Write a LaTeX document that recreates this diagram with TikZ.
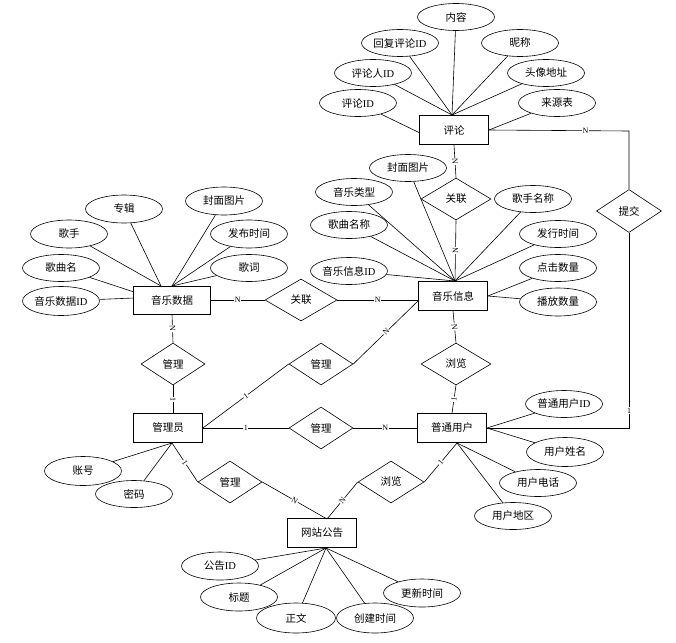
\documentclass[tikz,border=0pt]{standalone}
\usepackage{fontspec}
\setmainfont{Liberation Serif}
\newfontfamily\cjk{Noto Sans CJK SC}
\usetikzlibrary{shapes.geometric,calc}
\newcommand{\lat}[1]{{\rmfamily #1}}
\begin{document}
\begin{tikzpicture}[x=1pt,y=-1pt,
  txt/.style={font=\cjk\fontsize{10.5}{12}\selectfont},
  ent/.style={txt, draw, line width=0.8pt, minimum width=69pt, minimum height=29pt, inner sep=0pt},
  att/.style={txt, ellipse, draw, line width=0.6pt, minimum width=77pt, minimum height=27pt, inner sep=0pt},
  rel/.style={txt, diamond, draw, line width=0.6pt, minimum width=68pt, minimum height=42pt, inner sep=0pt},
  ln/.style={line width=0.6pt},
  cardup/.style={font=\fontsize{8}{8}\selectfont, fill=white, inner sep=0.6pt},
  card/.style={cardup, sloped}]
\useasboundingbox (0,0) rectangle (676,642);

% entities
\node[ent] (c)  at (454,130) {评论};
\node[ent] (mi) at (453,296) {音乐信息};
\node[ent, minimum width=77pt, minimum height=28pt] (md) at (172,300) {音乐数据};
\node[ent] (ad) at (168,428) {管理员};
\node[ent] (us) at (452,428) {普通用户};
\node[ent] (nt) at (322,533) {网站公告};

% relations
\node[rel, minimum width=70pt] (r1) at (456,199) {关联};
\node[rel, minimum width=72pt] (r2) at (301,300) {关联};
\node[rel, minimum width=64pt] (m1) at (173,364) {管理};
\node[rel, minimum width=64pt] (m2) at (321,364) {管理};
\node[rel, minimum width=70pt] (b1) at (456,364) {浏览};
\node[rel, minimum width=64pt] (m3) at (321,428) {管理};
\node[rel, minimum width=64pt] (m4) at (230,482) {管理};
\node[rel, minimum width=66pt] (b2) at (391,482) {浏览};
\node[rel, minimum width=65pt, minimum height=43pt] (tj) at (629,211) {提交};

% attributes of 评论
\node[att] (a1) at (456,17) {内容};
\node[att] (a2) at (400,43) {回复评论\lat{ID}};
\node[att] (a3) at (520,43) {昵称};
\node[att] (a4) at (373,73) {评论人\lat{ID}};
\node[att] (a5) at (546,73) {头像地址};
\node[att] (a6) at (358,103) {评论\lat{ID}};
\node[att] (a7) at (557,103) {来源表};

% attributes of 音乐信息
\node[att] (b1a) at (408,168) {封面图片};
\node[att] (b2a) at (354,192) {音乐类型};
\node[att] (b3a) at (533,199) {歌手名称};
\node[att] (b4a) at (349,225) {歌曲名称};
\node[att] (b5a) at (558,234) {发行时间};
\node[att] (b6a) at (349,271) {音乐信息\lat{ID}};
\node[att] (b7a) at (558,268) {点击数量};
\node[att, minimum height=28pt] (b8a) at (558,302) {播放数量};

% attributes of 音乐数据
\node[att, minimum height=28pt] (d1) at (124,209) {专辑};
\node[att, minimum height=28pt] (d2) at (224,201) {封面图片};
\node[att, minimum height=28pt] (d3) at (69,234) {歌手};
\node[att, minimum height=28pt] (d4) at (249,234) {发布时间};
\node[att] (d5) at (61,268) {歌曲名};
\node[att] (d6) at (249,268) {歌词};
\node[att, minimum height=29pt] (d7) at (61,301) {音乐数据\lat{ID}};

% attributes of 管理员
\node[att, minimum height=29pt] (e1) at (83,471) {账号};
\node[att] (e2) at (134,494) {密码};

% attributes of 普通用户
\node[att] (u1) at (564,404) {普通用户\lat{ID}};
\node[att, minimum height=29pt] (u2) at (565,452) {用户姓名};
\node[att] (u3) at (538,483) {用户电话};
\node[att] (u4) at (513,516) {用户地区};

% attributes of 网站公告
\node[att, minimum height=28pt] (n1) at (220,566) {公告\lat{ID}};
\node[att, minimum height=28pt] (n2) at (239,597) {标题};
\node[att, minimum height=30pt, minimum width=79pt] (n3) at (296,618) {正文};
\node[att, minimum height=30pt] (n4) at (375,618) {创建时间};
\node[att, minimum height=28pt] (n5) at (422,593) {更新时间};

% convergence points
\coordinate (cT) at (452,115);
\coordinate (cL) at (420,133);
\coordinate (miT) at (455,281);
\coordinate (miL) at (419,300);
\coordinate (mdT1) at (161,286);
\coordinate (mdT2) at (172,286);
\coordinate (mdL1) at (134,292);
\coordinate (mdL2) at (134,298);
\coordinate (adB) at (172,443);
\coordinate (usB) at (457,443);
\coordinate (ntB) at (326,548);
\coordinate (ntT) at (327,519);
\coordinate (cr1) at (629,131);
\coordinate (cr2) at (629,428);

% attribute lines
\foreach \a in {a1,a2,a3,a4,a5} \draw[ln] (\a) -- (cT);
\draw[ln] (a6) -- (cL);
\draw[ln] (a7) -- (c.east);
\foreach \a in {b1a,b2a,b3a,b4a,b5a,b6a} \draw[ln] (\a) -- (miT);
\draw[ln] (b7a) -- (mi.east);
\draw[ln] (b8a) -- (mi.east);
\draw[ln] (d1) -- (mdT1);
\draw[ln] (d3) -- (mdT1);
\foreach \a in {d2,d4,d6} \draw[ln] (\a) -- (mdT2);
\draw[ln] (d5) -- (mdL1);
\draw[ln] (d7) -- (mdL2);
\draw[ln] (e1) -- (adB);
\draw[ln] (e2) -- (adB);
\draw[ln] (u1) -- (us.east);
\draw[ln] (u2) -- (us.east);
\draw[ln] (u3) -- (usB);
\draw[ln] (u4) -- (usB);
\foreach \a in {n1,n2,n3,n4,n5} \draw[ln] (\a) -- (ntB);

% relationship lines
\draw[ln] (c.south) -- node[card]{N} (r1.north);
\draw[ln] (r1.south) -- node[card]{N} (miT);
\draw[ln] (md.east) -- node[card]{N} (r2.west);
\draw[ln] (r2.east) -- node[card]{N} (mi.west |- r2.east);
\draw[ln] (md.south) -- node[card]{N} (m1.north);
\draw[ln] (m1.south) -- node[card]{1} (ad.north -| m1.south);
\draw[ln] (ad.east) -- node[card]{1} (m2.west);
\draw[ln] (m2.east) -- node[card]{N} (miL);
\draw[ln] (ad.east) -- node[card]{1} (m3.west);
\draw[ln] (m3.east) -- node[card]{N} (us.west);
\draw[ln] (mi.south) -- node[card]{N} (b1.north);
\draw[ln] (b1.south) -- node[card]{1} (us.north);
\draw[ln] (adB) -- node[card]{1} (m4.west);
\draw[ln] (m4.east) -- node[card]{N} (ntT);
\draw[ln] (b2.west) -- node[card]{N} (ntT);
\draw[ln] (b2.east) -- node[card]{1} (usB);
\draw[ln] (c.east) -- node[cardup, pos=0.69]{N} (cr1) -- (tj.north);
\draw[ln] (tj.south) -- node[cardup, pos=0.91]{1} (cr2) -- (us.east);
\end{tikzpicture}
\end{document}
